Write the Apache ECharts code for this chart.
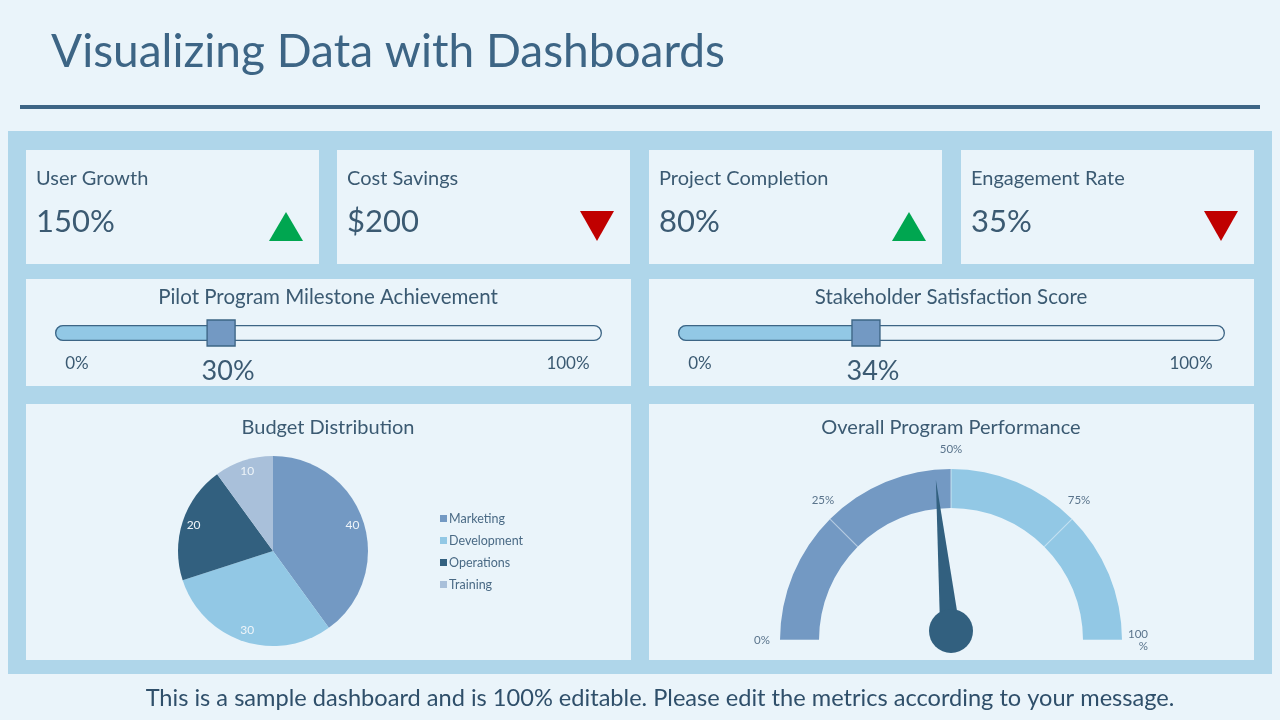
<!DOCTYPE html>
<html><head><meta charset="utf-8">
<script src="https://cdn.jsdelivr.net/npm/echarts@6/dist/echarts.min.js"></script>
<style>html,body{margin:0;padding:0;background:#eaf4fa}#c{width:1280px;height:720px}</style>
</head><body><div id="c"></div>
<script>
// ---- data ----
const pageTitle = 'Visualizing Data with Dashboards';
const footerText = 'This is a sample dashboard and is 100% editable. Please edit the metrics according to your message.';
const kpiLabels = ['User Growth', 'Cost Savings', 'Project Completion', 'Engagement Rate'];
const kpiValues = ['150%', '$200', '80%', '35%'];
const kpiTrends = ['up', 'down', 'up', 'down'];
const sliderTitles = ['Pilot Program Milestone Achievement', 'Stakeholder Satisfaction Score'];
const sliderValues = [30, 34];
const sliderEndLabels = ['0%', '100%'];
const budgetTitle = 'Budget Distribution';
const budgetCategories = ['Marketing', 'Development', 'Operations', 'Training'];
const budgetValues = [40, 30, 20, 10];
const gaugeTitle = 'Overall Program Performance';
const gaugeValue = 47;
const gaugeTickLabels = ['0%', '25%', '50%', '75%', '100\n%'];

// ---- style ----
const FONT = 'Lato';
const BG = '#eaf4fa';
const PANEL = '#afd6ea';
const DARK = '#3d6585';
const TEXT = '#3b5a72';
const budgetColors = ['#7399c3', '#92c8e5', '#32607f', '#a9c0da'];

const chart = echarts.init(document.getElementById('c'));

const g = [];
function rect(x, y, w, h, fill) { g.push({ type: 'rect', shape: { x, y, width: w, height: h }, style: { fill }, silent: true }); }
function text(t, x, y, size, fill, align) {
  g.push({ type: 'text', x, y, silent: true, style: { text: t, fontSize: size, fontFamily: FONT, fill: fill || TEXT, align: align || 'left', verticalAlign: 'middle' } });
}
rect(0, 0, 1280, 720, BG);
text(pageTitle, 51, 52, 46, DARK);
rect(20, 105, 1240, 4, DARK);
rect(8, 131, 1264, 543, PANEL);
const kpiLeft = [26, 337, 649, 961];
kpiLeft.forEach((x, i) => {
  rect(x, 150, 293, 114, BG);
  text(kpiLabels[i], x + 10, 179, 20, TEXT);
  text(kpiValues[i], x + 10, 222, 31, TEXT);
  const cx = x + 260;
  const pts = kpiTrends[i] === 'up'
    ? [[cx - 17, 241], [cx, 212], [cx + 17, 241]]
    : [[cx - 17, 211], [cx + 17, 211], [cx, 241]];
  g.push({ type: 'polygon', shape: { points: pts }, style: { fill: kpiTrends[i] === 'up' ? '#00a650' : '#c00000' }, silent: true });
});
const wideLeft = [26, 649];
wideLeft.forEach((x, i) => {
  rect(x, 279, 605, 107, BG);
  rect(x, 404, 605, 256, BG);
  text(sliderTitles[i], x + 302, 297, 20.5, TEXT, 'center');
  text(sliderEndLabels[0], x + 51, 364, 17, TEXT, 'center');
  text(sliderEndLabels[1], x + 542, 364, 17, TEXT, 'center');
});
text(budgetTitle, 328, 428, 20, TEXT, 'center');
text(gaugeTitle, 951, 428, 20, TEXT, 'center');
text(footerText, 660, 698, 23.6, '#2f4f6a', 'center');

const grids = [], xAxes = [], yAxes = [], series = [];
const trackLeft = [55, 678];
sliderValues.forEach((v, i) => {
  grids.push({ left: trackLeft[i], top: 325, width: 547, height: 16 });
  xAxes.push({ gridIndex: i, type: 'value', min: 0, max: 100, show: false });
  yAxes.push({ gridIndex: i, type: 'category', data: ['s'], show: false });
  series.push(
    { type: 'bar', xAxisIndex: i, yAxisIndex: i, data: [100], barWidth: 16, barGap: '-100%', silent: true, z: 2,
      itemStyle: { color: BG, borderRadius: 8 } },
    { type: 'bar', xAxisIndex: i, yAxisIndex: i, data: [v], barWidth: 16, barGap: '-100%', silent: true, z: 3,
      itemStyle: { color: '#92c8e5', borderRadius: [8, 0, 0, 8] } },
    { type: 'bar', xAxisIndex: i, yAxisIndex: i, data: [100], barWidth: 16, barGap: '-100%', silent: true, z: 4,
      itemStyle: { color: 'rgba(0,0,0,0)', borderColor: DARK, borderWidth: 1.3, borderRadius: 8 } },
    { type: 'scatter', xAxisIndex: i, yAxisIndex: i, data: [[v, 0]], symbol: 'rect', symbolSize: [28, 26], symbolOffset: [2, 0], silent: true, z: 5,
      itemStyle: { color: '#7399c3', borderColor: DARK, borderWidth: 1.3, opacity: 1 },
      label: { show: true, position: 'bottom', distance: 11, offset: [7, 0], formatter: p => p.value[0] + '%', fontSize: 27, fontFamily: FONT, color: TEXT } }
  );
});

const pieData = budgetCategories.map((n, i) => ({ name: n, value: budgetValues[i], itemStyle: { color: budgetColors[i] } }));
series.push({
  type: 'pie', center: [273, 551], radius: [0, 95], startAngle: 90, clockwise: true, silent: true,
  data: pieData, label: { show: false }, labelLine: { show: false }
});
series.push({
  type: 'pie', center: [273, 551], radius: [65, 96], startAngle: 90, clockwise: true, silent: true,
  data: budgetCategories.map((n, i) => ({ name: n, value: budgetValues[i] })),
  itemStyle: { color: 'rgba(0,0,0,0)' },
  label: { show: true, position: 'inside', formatter: '{c}', color: '#eef4f9', fontSize: 12, fontFamily: FONT },
  labelLine: { show: false }
});

series.push({
  type: 'gauge', center: [951, 640], radius: 171, startAngle: 180, endAngle: 0, min: 0, max: 100, splitNumber: 4,
  axisLine: { lineStyle: { width: 39, color: [[0.5, '#7399c3'], [1, '#92c8e5']] } },
  splitLine: { show: true, length: 39, distance: -39, lineStyle: { color: 'rgba(234,244,250,0.55)', width: 1.2 } },
  axisTick: { show: false },
  axisLabel: { show: true, distance: -26, color: '#5a748c', fontSize: 11.5, fontFamily: FONT, align: 'center', verticalAlign: 'middle',
    formatter: v => gaugeTickLabels[Math.round(v / 25)] },
  pointer: { show: true, icon: 'triangle', length: 152, width: 20, offsetCenter: [0, -9], itemStyle: { color: '#32607f' } },
  anchor: { show: true, showAbove: true, size: 44, offsetCenter: [0, -9], itemStyle: { color: '#32607f' } },
  title: { show: false }, detail: { show: false },
  data: [{ value: gaugeValue }]
});

chart.setOption({
  animation: false,
  graphic: { elements: g },
  grid: grids, xAxis: xAxes, yAxis: yAxes,
  legend: {
    data: budgetCategories, orient: 'vertical', left: 435, top: 507, itemWidth: 7, itemHeight: 7, itemGap: 9,
    icon: 'rect', selectedMode: false, textStyle: { fontSize: 12.5, fontFamily: FONT, color: '#4a6a85', padding: [0, 0, 0, -3] }
  },
  series
});
</script></body></html>
